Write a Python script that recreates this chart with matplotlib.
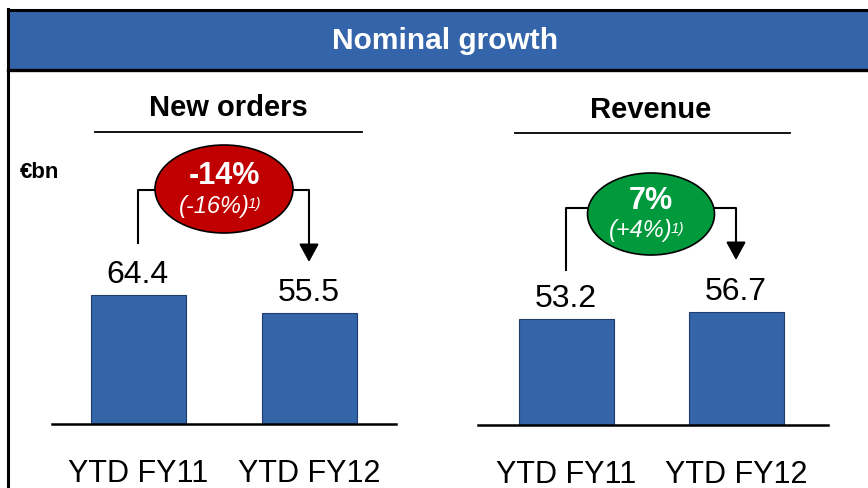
import matplotlib
matplotlib.use("Agg")
import matplotlib.pyplot as plt
from matplotlib.patches import Rectangle, Ellipse

plt.rcParams['font.family'] = ['Liberation Sans', 'DejaVu Sans']

# data
panels = ["New orders", "Revenue"]
categories = ["YTD FY11", "YTD FY12"]
new_orders = [64.4, 55.5]
revenue = [53.2, 56.7]
growth = ["-14%", "7%"]
growth_adj = ["(-16%)", "(+4%)"]
bubble_colors = ["#C00000", "#009A3D"]
unit = "€bn"

W, H = 868, 488
fig = plt.figure(figsize=(W / 100, H / 100), dpi=100)

# overlay in pixel coords for the slide decorations
ov = fig.add_axes([0, 0, 1, 1])
ov.set_xlim(0, W)
ov.set_ylim(H, 0)
ov.axis("off")

blue = "#3465AA"
ov.add_patch(Rectangle((8, 10), W, 60, facecolor=blue, edgecolor="none"))
ov.plot([8, W], [9.5, 9.5], color="black", lw=2.2)
ov.plot([8, W], [70, 70], color="black", lw=2.4)
ov.plot([8, 8], [9, H], color="black", lw=2.2)
ov.text(445, 41, "Nominal growth", color="white", fontsize=21.5, fontweight="bold",
        ha="center", va="center")

ov.text(20, 172, unit, fontsize=16, fontweight="bold", ha="left", va="center")

# panel geometry (pixels): baseline x-range, bar centres, baseline y
geom = [
    dict(x0=52, x1=396, c=(138, 309), base=424, title_x=228, title_y=108,
         ul=(95, 362, 132), ell=(224, 189, 138, 88), ly=190, lbot=243, rtip=262),
    dict(x0=478, x1=828, c=(566, 736), base=425, title_x=651, title_y=110,
         ul=(515, 790, 133), ell=(651, 214, 127, 82), ly=208, lbot=270, rtip=260),
]
series = [new_orders, revenue]
ytop = 142

for i, g in enumerate(geom):
    c0, c1 = g["c"]
    ppu = c1 - c0
    ax = fig.add_axes([g["x0"] / W, (H - g["base"]) / H,
                       (g["x1"] - g["x0"]) / W, ytop * 2 / H])
    ax.set_facecolor("none")
    ax.set_xlim(-(c0 - g["x0"]) / ppu, 1 + (g["x1"] - c1) / ppu)
    ax.set_ylim(0, ytop)
    vals = series[i]
    bars = ax.bar([0, 1], vals, width=95 / ppu, color="#3465A8",
                  edgecolor="#1E3C6E", linewidth=0.8)
    for b, v in zip(bars, vals):
        ax.annotate(f"{v:.1f}", (b.get_x() + b.get_width() / 2, v),
                    xytext=(0, 3.5), textcoords="offset points",
                    ha="center", va="bottom", fontsize=23)
    for s in ["top", "left", "right"]:
        ax.spines[s].set_visible(False)
    ax.spines["bottom"].set_linewidth(1.8)
    ax.set_yticks([])
    ax.set_xticks([0, 1], categories, fontsize=22)
    ax.tick_params(axis="x", length=0, pad=25)

    # panel title and underline
    ov.text(g["title_x"], g["title_y"], panels[i], fontsize=21, fontweight="bold",
            ha="center", va="center")
    ux0, ux1, uy = g["ul"]
    ov.plot([ux0, ux1], [uy, uy], color="black", lw=1.3)

    # connector from first bar to second bar
    ex, ey, ew, eh = g["ell"]
    ov.plot([c0, c0, ex - ew / 2], [g["lbot"], g["ly"], g["ly"]], color="black", lw=1.5)
    ov.plot([ex + ew / 2, c1, c1], [g["ly"], g["ly"], g["rtip"] - 14], color="black", lw=1.5)
    ov.annotate("", xy=(c1, g["rtip"]), xytext=(c1, g["rtip"] - 16),
                arrowprops=dict(arrowstyle="-|>,head_length=1.1,head_width=0.6",
                                color="black", lw=1.5, shrinkA=0, shrinkB=0))

    ov.add_patch(Ellipse((ex, ey), ew, eh, facecolor=bubble_colors[i],
                         edgecolor="black", lw=1.2, zorder=3))
    ov.text(ex, ey - 13, growth[i], color="white", fontsize=22, fontweight="bold",
            ha="center", va="center", zorder=4)
    t = ov.text(ex - 10, ey + 17, growth_adj[i], color="white", fontsize=17,
                fontstyle="italic", ha="center", va="center", zorder=4)
    ov.annotate("1)", xy=(1, 1), xycoords=t, xytext=(-1.5, -1.5), textcoords="offset points",
                color="white", fontsize=11, fontstyle="italic", ha="left", va="top",
                zorder=4)

fig.savefig("out.png", dpi=100)
